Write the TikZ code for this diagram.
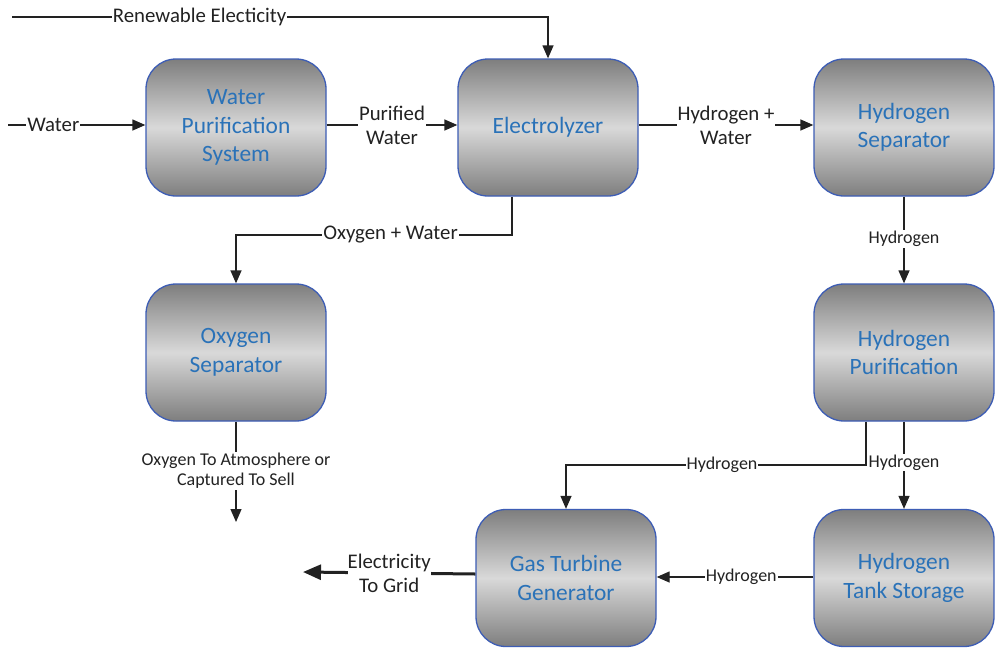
\documentclass[tikz,border=0pt]{standalone}
\usepackage{fontspec}
\setmainfont{Carlito}
\usetikzlibrary{arrows.meta}
\definecolor{txtblue}{HTML}{2A72B8}
\definecolor{edgeblue}{HTML}{3D5DB5}
\definecolor{gdark}{HTML}{7E7E7E}
\definecolor{glight}{HTML}{D9D9D9}
\definecolor{lbl}{HTML}{222222}
\tikzset{
  proc/.style={draw=edgeblue, line width=1.3pt, rounded corners=30pt,
    minimum width=180pt, minimum height=137pt, inner sep=0pt,
    top color=gdark, bottom color=gdark, middle color=glight,
    align=center, text=txtblue, font=\fontsize{23.4}{28.5}\selectfont},
  flow/.style={draw=lbl, line width=1.3pt, -{Triangle[length=13pt,width=11pt]}},
  lab/.style={fill=white, inner sep=1pt, text=lbl, align=center, font=\fontsize{20.8}{24}\selectfont},
  slab/.style={fill=white, inner sep=1pt, text=lbl, align=center, font=\fontsize{18}{20}\selectfont},
}
\begin{document}
\begin{tikzpicture}[x=1pt,y=-1pt]
\useasboundingbox (0,0) rectangle (995,656);
\fill[white] (0,0) rectangle (995,656);
% nodes
\node[proc] (wp) at (236,127.5) {Water\\Purification\\System};
\node[proc] (el) at (548,127.5) {Electrolyzer};
\node[proc] (hs) at (904,127.5) {Hydrogen\\Separator};
\node[proc] (os) at (236,352.5) {Oxygen\\Separator};
\node[proc] (hp) at (904,352.5) {Hydrogen\\Purification};
\node[proc] (gt) at (566,578) {Gas Turbine\\Generator};
\node[proc] (ht) at (904,578) {Hydrogen\\Tank Storage};
% free ends
\coordinate (win) at (8,125);
\coordinate (rin) at (12,17);
\coordinate (oout) at (236,522);
\coordinate (eout) at (303,572);
% Water in
\draw[flow] (win) -- (wp.west |- win) node[lab, pos=0.33] {Water};
% Purified water
\draw[flow] (wp.east |- 0,125) -- (el.west |- 0,125) node[lab, midway] {Purified\\Water};
% Renewable electricity
\draw[flow] (rin) -- (548,17) node[lab, pos=0.35] {Renewable Electicity} -- (el.north);
% Hydrogen + water
\draw[flow] (el.east |- 0,125) -- (hs.west |- 0,125) node[lab, midway] {Hydrogen +\\Water};
% Oxygen + water
\draw[flow] (el.south -| 512,0) -- (512,235) -- node[lab, pos=0.44] {Oxygen + Water} (236,235) -- (os.north);
% Hydrogen sep -> purification
\draw[flow] (hs.south) -- node[slab, pos=0.49] {Hydrogen} (hp.north);
% Purification -> gas turbine
\draw[flow] (hp.south -| 866,0) -- (866,465) -- node[slab, pos=0.48] {Hydrogen} (566,465) -- (gt.north);
% Purification -> tank
\draw[flow] (hp.south) -- node[slab, pos=0.47] {Hydrogen} (ht.north);
% Tank -> gas turbine
\draw[flow] (ht.west |- 0,577) -- node[slab, pos=0.46] {Hydrogen} (gt.east |- 0,577);
% Oxygen out
\draw[flow] (os.south) -- node[slab, pos=0.49] {Oxygen To Atmosphere or\\Captured To Sell} (oout);
% Electricity to grid
\draw[draw=lbl, line width=3pt, -{Triangle[length=18pt,width=15pt]}] (gt.west |- 0,574) -- node[lab, midway, inner sep=0pt] {Electricity\\To Grid} (eout);
\end{tikzpicture}
\end{document}
